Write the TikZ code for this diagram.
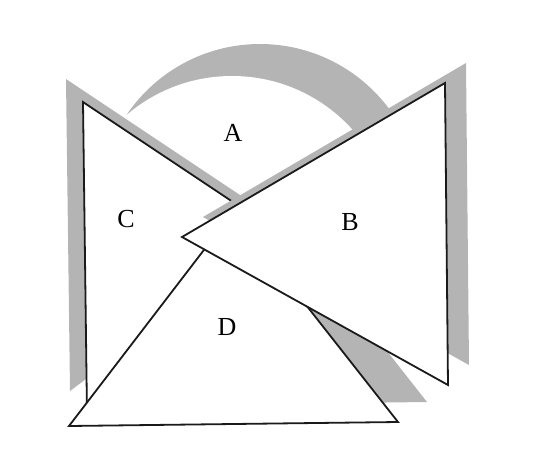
\documentclass[tikz,border=0pt]{standalone}
\usepackage{fontspec}
\setmainfont{Liberation Serif}
\usepackage{xcolor}
\definecolor{cLine}{HTML}{1A1A1A}
\definecolor{cShade}{HTML}{B4B4B4}
\usepackage{tikz}
\tikzset{
  piece/.style={draw=cLine,fill=white,line width=1.8pt,line join=miter},
  piece-shadow/.style={fill=cShade,draw=none},
  piece-label/.style={font=\fontsize{26}{29}\selectfont,inner sep=0pt},
}

\begin{document}
\begin{tikzpicture}[x=1pt,y=-1pt]
  \useasboundingbox (0,0) rectangle (539,475);
  % A: round piece behind, only its shadow rim shows
  \fill[piece-shadow] (260,205) circle (161);
  \fill[white] (232,238) circle (162);
  % C: left piece
  \fill[piece-shadow,shift={(-17,-23)}] (83,102) -- (87,414) -- (305,250) -- cycle;
  \draw[piece] (83,102) -- (87,414) -- (305,250) -- cycle;
  % D: bottom piece
  \fill[piece-shadow,shift={(29,-20)}] (69,426) -- (398,422) -- (233,212) -- cycle;
  \draw[piece] (69,426) -- (398,422) -- (233,212) -- cycle;
  % B: right piece, on top
  \fill[piece-shadow,shift={(21,-20)}] (182,237) -- (445,83) -- (448,385) -- cycle;
  \draw[piece] (182,237) -- (445,83) -- (448,385) -- cycle;
  % labels
  \node[piece-label] (lblA) at (233,133) {A};
  \node[piece-label] (lblB) at (350,222) {B};
  \node[piece-label] (lblC) at (126,219) {C};
  \node[piece-label] (lblD) at (227,327) {D};
\end{tikzpicture}
\end{document}
